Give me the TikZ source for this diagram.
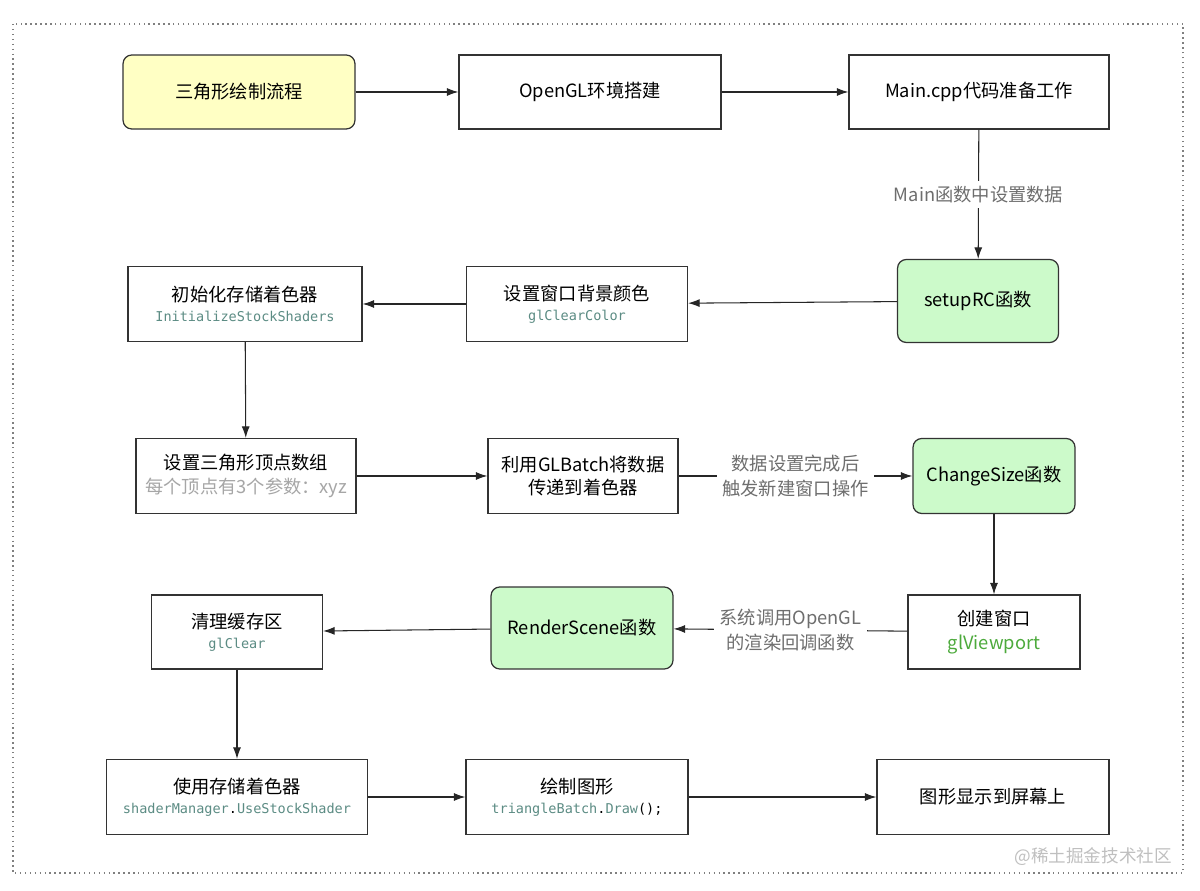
\documentclass[tikz,border=0pt]{standalone}
\usepackage{fontspec}
\setmainfont{Noto Sans CJK SC}
\setsansfont{Noto Sans CJK SC}
\setmonofont{DejaVu Sans Mono}
\usetikzlibrary{arrows.meta,positioning}
\definecolor{startfill}{HTML}{FFFFC4}
\definecolor{funcfill}{HTML}{CCFACA}
\definecolor{codecol}{HTML}{5C8C84}
\definecolor{hintcol}{HTML}{A6A6A6}
\definecolor{labelcol}{HTML}{6E6E6E}
\definecolor{viewcol}{HTML}{4DAA3C}
\newcommand{\codetxt}{\ttfamily\fontsize{7.7}{10}\selectfont\color{codecol}}

\begin{document}
\begin{tikzpicture}[
    x=0.02cm, y=-0.02cm,
    box/.style={draw=black!80, line width=0.7pt, fill=white, align=center, font=\fontsize{10.4}{13.4}\selectfont, inner sep=2pt},
    startbox/.style={box, fill=startfill, rounded corners=5pt},
    funcbox/.style={box, fill=funcfill, rounded corners=5pt},
    arr/.style={-{Latex[length=2.3mm,width=1.6mm]}, line width=0.6pt, black!85},
    steplabel/.style={fill=white, text=labelcol, align=center, font=\fontsize{10.4}{14}\selectfont, inner sep=3pt}
]
\useasboundingbox (0,0) rectangle (1200,891);
% Outer frame
\draw[black!50, dotted, line width=0.8pt] (13,24) rectangle (1183,873);
% Row 1
\node[startbox, minimum width=4.64cm, minimum height=1.48cm] (start) at (239,92) {三角形绘制流程};
\node[box, minimum width=5.24cm, minimum height=1.48cm] (env) at (590,92) {OpenGL环境搭建};
\node[box, minimum width=5.2cm, minimum height=1.48cm] (prep) at (979,92) {Main.cpp代码准备工作};
% Row 2
\node[funcbox, minimum width=3.22cm, minimum height=1.66cm] (setup) at (978,301) {setupRC函数};
\node[box, minimum width=4.42cm, minimum height=1.5cm] (clearcolor) at (577,304) {设置窗口背景颜色\\[-2pt]{\codetxt glClearColor}};
\node[box, minimum width=4.68cm, minimum height=1.5cm] (initshader) at (245,304) {初始化存储着色器\\[-2pt]{\codetxt InitializeStockShaders}};
% Row 3
\node[box, minimum width=4.4cm, minimum height=1.5cm] (verts) at (246,476) {设置三角形顶点数组\\{\color{hintcol}每个顶点有3个参数：xyz}};
\node[box, minimum width=3.8cm, minimum height=1.5cm] (batch) at (583,476) {利用GLBatch将数据\\传递到着色器};
\node[funcbox, minimum width=3.24cm, minimum height=1.5cm] (resize) at (994,476) {ChangeSize函数};
% Row 4
\node[box, minimum width=3.44cm, minimum height=1.48cm] (window) at (994,632) {创建窗口\\{\color{viewcol}glViewport}};
\node[funcbox, minimum width=3.64cm, minimum height=1.64cm] (render) at (582,628) {RenderScene函数};
\node[box, minimum width=3.42cm, minimum height=1.48cm] (clear) at (237,632) {清理缓存区\\[-2pt]{\codetxt glClear}};
% Row 5
\node[box, minimum width=5.22cm, minimum height=1.5cm] (useshader) at (237,797) {使用存储着色器\\[-2pt]{\codetxt shaderManager{\color{black}.}UseStockShader}};
\node[box, minimum width=4.44cm, minimum height=1.5cm] (draw) at (577,797) {绘制图形\\[-2pt]{\codetxt triangleBatch{\color{black}.}Draw{\color{black}();}}};
\node[box, minimum width=4.64cm, minimum height=1.5cm] (show) at (993,797) {图形显示到屏幕上};
% Connectors
\draw[arr] (start) -- (env);
\draw[arr] (env) -- (prep);
\draw[arr] (prep) -- node[steplabel] {Main函数中设置数据} (setup);
\draw[arr] (setup) -- (clearcolor);
\draw[arr] (clearcolor) -- (initshader);
\draw[arr] (initshader) -- (verts);
\draw[arr] (verts) -- (batch);
\draw[arr] (batch) -- node[steplabel] {数据设置完成后\\触发新建窗口操作} (resize);
\draw[arr] (resize) -- (window);
\draw[arr] (window) -- node[steplabel] {系统调用OpenGL\\的渲染回调函数} (render);
\draw[arr] (render) -- (clear);
\draw[arr] (clear) -- (useshader);
\draw[arr] (useshader) -- (draw);
\draw[arr] (draw) -- (show);
% Watermark
\node[text=black!25, font=\fontsize{10}{12}\selectfont, anchor=east] (mark) at (1178,857) {@稀土掘金技术社区};
\end{tikzpicture}
\end{document}
